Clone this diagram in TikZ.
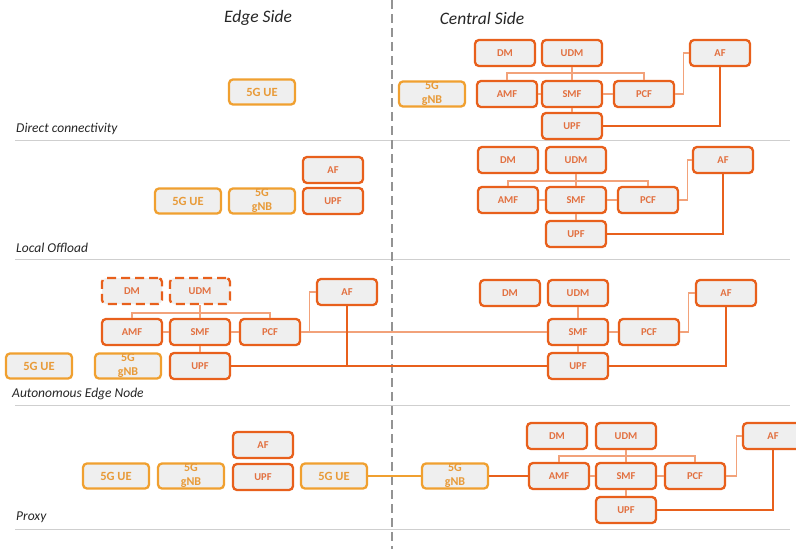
\documentclass[tikz,border=0pt]{standalone}
\usepackage{fontspec}
\setmainfont{Carlito}
\setsansfont{Carlito}
\begin{document}
\definecolor{nfc}{HTML}{E8601C}
\definecolor{nftext}{HTML}{E27040}
\definecolor{ranc}{HTML}{F0A030}
\definecolor{rantext}{HTML}{E89A38}
\definecolor{boxfill}{HTML}{EFEFEF}
\definecolor{thinc}{HTML}{F2A27A}
\definecolor{sepc}{HTML}{CFCFCF}
\definecolor{labc}{HTML}{262626}
\begin{tikzpicture}[x=1pt,y=-1pt,
  nf/.style={draw=nfc, line width=2.3pt, fill=boxfill, rounded corners=4pt,
    minimum width=60pt, minimum height=26pt, inner sep=0pt,
    font=\bfseries\fontsize{10.5}{11}\selectfont, text=nftext},
  nfdash/.style={nf, dash pattern=on 9pt off 5pt},
  ran/.style={nf, draw=ranc, text=rantext, minimum width=66pt, minimum height=25pt,
    font=\bfseries\fontsize{12.5}{13}\selectfont},
  gnb/.style={ran, align=center, font=\bfseries\fontsize{12}{14}\selectfont},
  thinline/.style={draw=thinc, line width=1.2pt},
  thickline/.style={draw=nfc, line width=2.6pt},
  ranline/.style={draw=ranc, line width=2pt},
  sep/.style={draw=sepc, line width=1pt},
  rowlab/.style={anchor=west, font=\itshape\fontsize{13.5}{14}\selectfont, text=labc, inner sep=0pt},
  head/.style={font=\itshape\fontsize{17.5}{19}\selectfont, text=labc}
]
\useasboundingbox (0,0) rectangle (796,549);
\fill[white] (0,0) rectangle (796,549);

% headers
\node[head] (hedge) at (258,18) {Edge Side};
\node[head] (hcentral) at (482,18) {Central Side};

% separators
\draw[sep] (15,140) -- (790,140);
\draw[sep] (15,259) -- (790,259);
\draw[sep] (15,405) -- (790,405);
\draw[sep] (15,529) -- (790,529);
\draw[draw=gray!85, line width=2.6pt, dash pattern=on 9pt off 5pt] (392,0) -- (392,549);

% row labels
\node[rowlab] (l1) at (16,129) {Direct connectivity};
\node[rowlab] (l2) at (16,248) {Local Offload};
\node[rowlab] (l3) at (12,394) {Autonomous Edge Node};
\node[rowlab] (l4) at (16,517) {Proxy};

% ===== Row 1 =====
\node[ran] (ue1) at (262,92) {5G UE};
\node[gnb] (gnb1) at (432,94) {5G\\gNB};
\node[nf] (dm1) at (505,53) {DM};
\node[nf] (udm1) at (572,53) {UDM};
\node[nf] (amf1) at (507,94) {AMF};
\node[nf] (smf1) at (572,94) {SMF};
\node[nf] (pcf1) at (644,94) {PCF};
\node[nf] (af1) at (720,53) {AF};
\node[nf] (upf1) at (572,126) {UPF};
\coordinate (b1) at (572,73);

% ===== Row 2 =====
\node[ran] (ue2) at (188,201) {5G UE};
\node[gnb] (gnb2) at (262,201) {5G\\gNB};
\node[nf] (af2e) at (333,170) {AF};
\node[nf] (upf2e) at (333,201) {UPF};
\node[nf] (dm2) at (508,160) {DM};
\node[nf] (udm2) at (576,160) {UDM};
\node[nf] (amf2) at (508,200) {AMF};
\node[nf] (smf2) at (576,200) {SMF};
\node[nf] (pcf2) at (648,200) {PCF};
\node[nf] (af2) at (723,160) {AF};
\node[nf] (upf2) at (576,234) {UPF};
\coordinate (b2) at (576,181);

% ===== Row 3 =====
\node[ran] (ue3) at (39,366) {5G UE};
\node[gnb] (gnb3) at (128,366) {5G\\gNB};
\node[nfdash] (dm3e) at (132,291) {DM};
\node[nfdash] (udm3e) at (200,291) {UDM};
\node[nf] (amf3e) at (132,332) {AMF};
\node[nf] (smf3e) at (200,332) {SMF};
\node[nf] (pcf3e) at (270,332) {PCF};
\node[nf] (af3e) at (347,292) {AF};
\node[nf] (upf3e) at (200,366) {UPF};
\coordinate (b3) at (200,313);
\node[nf] (dm3) at (510,293) {DM};
\node[nf] (udm3) at (578,293) {UDM};
\node[nf] (smf3) at (578,332) {SMF};
\node[nf] (pcf3) at (649,332) {PCF};
\node[nf] (af3) at (726,293) {AF};
\node[nf] (upf3) at (578,366) {UPF};

% ===== Row 4 =====
\node[ran] (ue4) at (116,476) {5G UE};
\node[gnb] (gnb4e) at (191,476) {5G\\gNB};
\node[nf] (af4e) at (263,445) {AF};
\node[nf] (upf4e) at (263,477) {UPF};
\node[ran] (ue4b) at (334,476) {5G UE};
\node[gnb] (gnb4) at (455,476) {5G\\gNB};
\node[nf] (dm4) at (557,436) {DM};
\node[nf] (udm4) at (626,436) {UDM};
\node[nf] (amf4) at (559,476) {AMF};
\node[nf] (smf4) at (626,476) {SMF};
\node[nf] (pcf4) at (695,476) {PCF};
\node[nf] (af4) at (773,436) {AF};
\node[nf] (upf4) at (626,510) {UPF};
\coordinate (b4) at (626,456);

% ===== connectors =====
% row 1
\draw[thinline] (udm1.south) -- (smf1.north);
\draw[thinline] (amf1.north) |- (b1) -| (pcf1.north);
\draw[thinline] (amf1.east) -- (smf1.west);
\draw[thinline] (smf1.east) -- (pcf1.west);
\draw[thinline] (smf1.south) -- (upf1.north);
\draw[thinline] (pcf1.east) -- ++(8,0) |- (af1.west);
\draw[thickline] (upf1.east) -| (af1.south);
% row 2
\draw[thinline] (udm2.south) -- (smf2.north);
\draw[thinline] (amf2.north) |- (b2) -| (pcf2.north);
\draw[thinline] (amf2.east) -- (smf2.west);
\draw[thinline] (smf2.east) -- (pcf2.west);
\draw[thinline] (smf2.south) -- (upf2.north);
\draw[thinline] (pcf2.east) -- ++(8,0) |- (af2.west);
\draw[thickline] (upf2.east) -| (af2.south);
% row 3
\draw[thinline] (udm3e.south) -- (smf3e.north);
\draw[thinline] (amf3e.north) |- (b3) -| (pcf3e.north);
\draw[thinline] (amf3e.east) -- (smf3e.west);
\draw[thinline] (smf3e.east) -- (pcf3e.west);
\draw[thinline] (smf3e.south) -- (upf3e.north);
\draw[thinline] (pcf3e.east) -- ++(8,0) |- (af3e.west);
\draw[thinline] (pcf3e.east) -- (smf3.west);
\draw[thickline] (upf3e.east) -- (upf3.west);
\draw[thickline] (af3e.south) -- (af3e.south |- upf3e.east);
\draw[thinline] (udm3.south) -- (smf3.north);
\draw[thinline] (smf3.east) -- (pcf3.west);
\draw[thinline] (smf3.south) -- (upf3.north);
\draw[thinline] (pcf3.east) -- ++(8,0) |- (af3.west);
\draw[thickline] (upf3.east) -| (af3.south);
% row 4
\draw[ranline] (ue4b.east) -- (gnb4.west);
\draw[thickline] (gnb4.east) -- (amf4.west);
\draw[thinline] (udm4.south) -- (smf4.north);
\draw[thinline] (amf4.north) |- (b4) -| (pcf4.north);
\draw[thinline] (amf4.east) -- (smf4.west);
\draw[thinline] (smf4.east) -- (pcf4.west);
\draw[thinline] (smf4.south) -- (upf4.north);
\draw[thinline] (pcf4.east) -- ++(10,0) |- (af4.west);
\draw[thickline] (upf4.east) -| (af4.south);
\end{tikzpicture}
\end{document}
